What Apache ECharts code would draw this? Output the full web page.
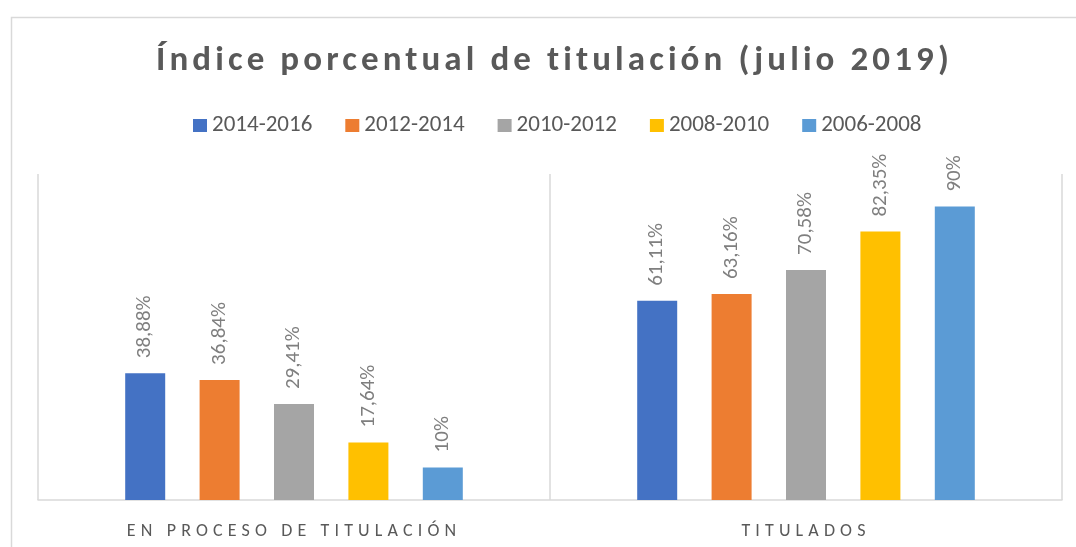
<!DOCTYPE html>
<html>
<head>
<meta charset="utf-8">
<script src="https://cdn.jsdelivr.net/npm/echarts@6/dist/echarts.min.js"></script>
<style>
html,body{margin:0;padding:0;background:#fff;}
#c{width:1076px;height:547px;}
</style>
</head>
<body>
<div id="c"></div>
<script>
const categories = ['EN PROCESO DE TITULACIÓN', 'TITULADOS'];
const seriesNames = ['2014-2016', '2012-2014', '2010-2012', '2008-2010', '2006-2008'];
const s2014_2016 = [38.88, 61.11];
const s2012_2014 = [36.84, 63.16];
const s2010_2012 = [29.41, 70.58];
const s2008_2010 = [17.64, 82.35];
const s2006_2008 = [10, 90];
const colors = ['#4472C4', '#ED7D31', '#A5A5A5', '#FFC000', '#5B9BD5'];
const values = [s2014_2016, s2012_2014, s2010_2012, s2008_2010, s2006_2008];

// letter spacing for the spaced-out title and category labels (rendering tweak only)
(function () {
  const proto = CanvasRenderingContext2D.prototype;
  if (!('letterSpacing' in proto)) return;
  const spacingFor = f => /\b35px/.test(f) ? '4.1px' : (/\b18px/.test(f) ? '5.15px' : '0px');
  ['fillText', 'strokeText', 'measureText'].forEach(name => {
    const orig = proto[name];
    proto[name] = function () {
      this.letterSpacing = spacingFor(this.font);
      return orig.apply(this, arguments);
    };
  });
})();

const chart = echarts.init(document.getElementById('c'));
const font = 'Carlito, Lato, "Open Sans", sans-serif';
chart.setOption({
  animation: false,
  backgroundColor: '#fff',
  color: colors,
  graphic: [{
    type: 'rect', left: 9, top: 15, silent: true,
    shape: { x: 0, y: 0, width: 1100, height: 600 },
    style: { fill: 'none', stroke: '#d9d9d9', lineWidth: 1.5 }
  }],
  title: {
    text: 'Índice porcentual de titulación (julio 2019)',
    left: 151, top: 37,
    textStyle: { fontFamily: font, fontSize: 35, fontWeight: 'bold', color: '#595959' }
  },
  legend: {
    top: 109, left: 188,
    itemWidth: 14, itemHeight: 13, itemGap: 33,
    icon: 'rect',
    textStyle: { fontFamily: font, fontSize: 23, color: '#595959' },
    data: seriesNames
  },
  grid: { left: 38, right: 14, top: 174, bottom: 47 },
  xAxis: {
    type: 'category', data: categories,
    axisLine: { lineStyle: { color: '#d9d9d9', width: 1.5 } },
    axisTick: { show: false },
    splitLine: { show: true, lineStyle: { color: '#d9d9d9', width: 1.5 } },
    axisLabel: { margin: 20, fontFamily: font, fontSize: 18, color: '#595959' }
  },
  yAxis: { type: 'value', min: 0, max: 100, show: false, splitLine: { show: false } },
  series: values.map((v, i) => ({
    name: seriesNames[i], type: 'bar', data: v,
    barWidth: 40, barGap: '86%',
    label: {
      show: true, position: 'top', rotate: 90, distance: 15,
      align: 'left', verticalAlign: 'middle',
      fontFamily: font, fontSize: 21, color: '#7f7f7f',
      formatter: p => String(p.value).replace('.', ',') + '%'
    }
  }))
});
</script>
</body>
</html>
